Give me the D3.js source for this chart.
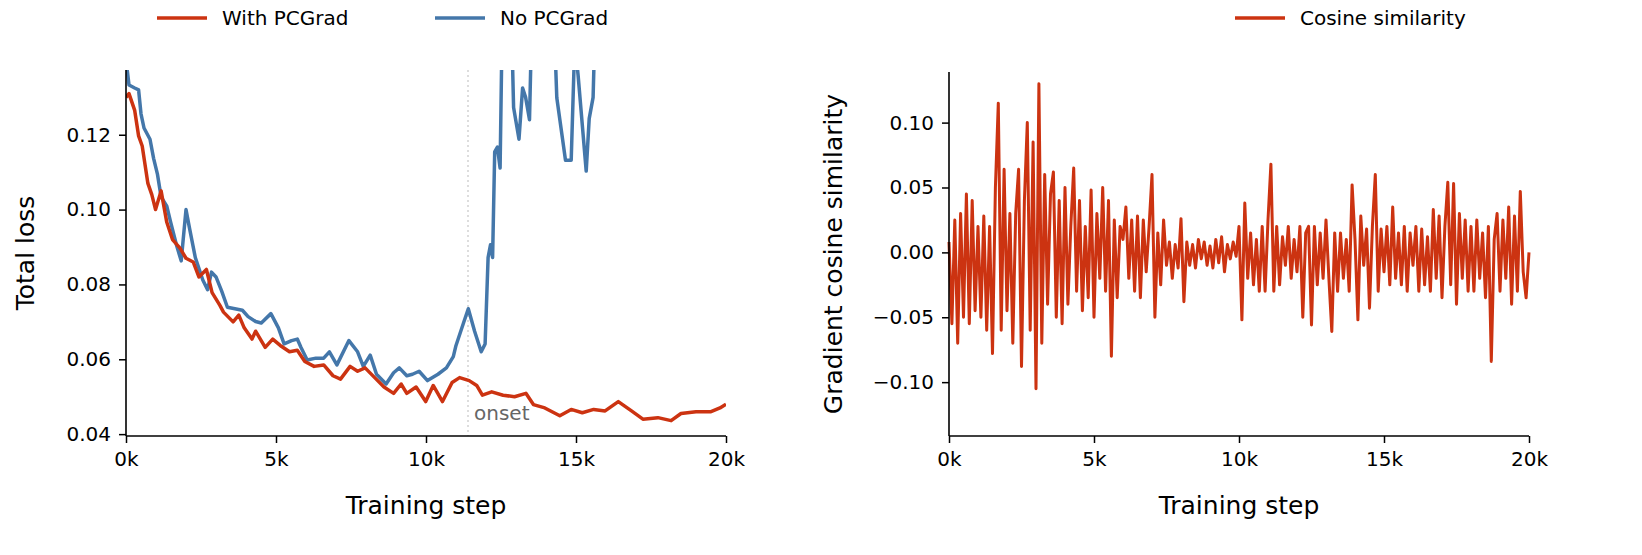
<!DOCTYPE html>
<html>
<head>
<meta charset="utf-8">
<script src="https://cdn.jsdelivr.net/npm/d3@7"></script>
<style>
  body { margin: 0; background: #fff; }
  text { font-family: "DejaVu Sans", sans-serif; }
</style>
</head>
<body>
<div id="chart"></div>
<script>
// ---- data ----
var pcgradSteps = [0, 100, 290, 420, 540, 730, 860, 985, 1170, 1360, 1550, 1800, 2000, 2240, 2430, 2680, 2870, 3130, 3250, 3570, 3760, 3940, 4200, 4320, 4640, 4890, 5140, 5450, 5710, 5960, 6270, 6590, 6900, 7150, 7470, 7720, 7970, 8290, 8600, 8920, 9170, 9360, 9670, 9990, 10240, 10550, 10870, 11120, 11440, 11690, 11880, 12190, 12570, 12950, 13330, 13580, 13960, 14460, 14840, 15210, 15590, 15970, 16410, 16850, 17230, 17730, 18170, 18500, 19000, 19500, 19800, 20000];
var pcgradLoss = [0.130, 0.131, 0.1265, 0.1197, 0.117, 0.107, 0.104, 0.100, 0.105, 0.0966, 0.092, 0.0897, 0.087, 0.086, 0.082, 0.084, 0.0778, 0.0744, 0.0726, 0.070, 0.0718, 0.0684, 0.0654, 0.0675, 0.0632, 0.0654, 0.0637, 0.062, 0.0624, 0.0594, 0.0581, 0.0585, 0.0556, 0.0547, 0.0581, 0.0568, 0.0577, 0.0551, 0.0526, 0.0509, 0.0534, 0.0509, 0.0526, 0.0487, 0.053, 0.0487, 0.0538, 0.0551, 0.0543, 0.053, 0.0504, 0.0513, 0.0504, 0.050, 0.0509, 0.0479, 0.047, 0.0449, 0.0466, 0.0457, 0.0466, 0.0462, 0.0487, 0.0462, 0.044, 0.0444, 0.0436, 0.0455, 0.046, 0.046, 0.047, 0.048];

var noPcgradSteps = [0, 100, 290, 420, 500, 600, 800, 920, 1050, 1170, 1360, 1490, 1680, 1840, 2000, 2120, 2310, 2560, 2720, 2850, 3000, 3190, 3380, 3630, 3880, 4070, 4320, 4510, 4830, 5080, 5270, 5520, 5710, 5830, 6040, 6330, 6590, 6780, 7030, 7430, 7720, 7910, 8140, 8350, 8670, 8920, 9110, 9360, 9550, 9770, 10050, 10400, 10680, 10910, 11000, 11250, 11410, 11620, 11840, 11970, 12070, 12150, 12220, 12290, 12380, 12470, 12540, 12700, 12820, 12920, 13100, 13220, 13320, 13450, 13510, 13800, 14100, 14270, 14360, 14650, 14840, 14960, 15070, 15340, 15440, 15570, 15620];
var noPcgradLoss = [0.140, 0.1333, 0.1325, 0.132, 0.1256, 0.1218, 0.1188, 0.1137, 0.1094, 0.1034, 0.1009, 0.0966, 0.0906, 0.0863, 0.100, 0.0949, 0.0872, 0.0812, 0.0786, 0.0833, 0.082, 0.0782, 0.0739, 0.0735, 0.0731, 0.0714, 0.0701, 0.0697, 0.0722, 0.0684, 0.0641, 0.065, 0.0654, 0.0632, 0.0598, 0.0603, 0.0603, 0.062, 0.0585, 0.065, 0.062, 0.0581, 0.0611, 0.056, 0.0534, 0.0564, 0.0577, 0.0556, 0.056, 0.0568, 0.0543, 0.056, 0.0577, 0.0607, 0.0637, 0.0697, 0.0735, 0.0675, 0.062, 0.0641, 0.0872, 0.0906, 0.0872, 0.1154, 0.1167, 0.1111, 0.150, 0.165, 0.160, 0.1273, 0.1188, 0.1325, 0.130, 0.124, 0.145, 0.165, 0.160, 0.150, 0.1299, 0.1132, 0.1132, 0.145, 0.1359, 0.1103, 0.1243, 0.130, 0.145];

var onsetStep = 11400;

// cosine similarity every 100 steps, 0 .. 20000
var cosine = [
  0.008, -0.055, 0.025, -0.07, 0.03, -0.05, 0.045, -0.055, 0.04, -0.045,
  0.02, -0.05, 0.028, -0.06, 0.02, -0.078, 0.05, 0.115, -0.06, 0.064,
  -0.045, 0.03, -0.07, 0.03, 0.064, -0.088, 0.04, 0.1, -0.06, 0.085,
  -0.105, 0.13, -0.07, 0.06, -0.04, 0.045, 0.062, -0.05, 0.04, -0.055,
  0.05, -0.04, 0.02, 0.065, -0.03, 0.04, -0.045, 0.02, -0.035, 0.048,
  -0.05, 0.03, -0.02, 0.05, -0.03, 0.04, -0.08, 0.025, -0.035, 0.02,
  0.01, 0.035, -0.02, 0.025, -0.03, 0.028, -0.035, 0.025, -0.015, 0.02,
  0.06, -0.05, 0.015, -0.025, 0.025, -0.01, 0.008, -0.02, 0.006, -0.012,
  0.026, -0.038, 0.008, -0.01, 0.006, -0.012, 0.01, -0.005, 0.008, -0.01,
  0.005, -0.012, 0.01, -0.008, 0.012, -0.015, 0.006, -0.005, 0.008, -0.003,
  0.02, -0.052, 0.038, -0.02, 0.015, -0.025, 0.01, -0.03, 0.02, -0.03,
  0.025, 0.068, -0.03, 0.02, -0.025, 0.012, -0.01, 0.02, -0.02, 0.01,
  -0.015, 0.02, -0.05, 0.015, 0.02, -0.056, 0.02, -0.025, 0.015, -0.02,
  0.025, -0.02, -0.061, 0.015, -0.03, 0.015, -0.02, 0.01, -0.03, 0.052,
  0.01, -0.052, 0.028, -0.01, 0.018, -0.043, 0.02, 0.06, -0.03, 0.018,
  -0.015, 0.02, -0.025, 0.035, -0.02, 0.015, -0.025, 0.02, -0.03, 0.015,
  -0.01, 0.02, -0.03, 0.018, -0.025, 0.012, -0.03, 0.033, -0.02, 0.028,
  -0.035, 0.02, 0.054, -0.025, 0.053, -0.04, 0.03, -0.02, 0.025, -0.03,
  0.02, -0.03, 0.025, -0.02, 0.015, -0.035, 0.02, -0.084, 0.01, 0.03,
  -0.03, 0.025, -0.02, 0.035, -0.04, 0.028, -0.03, 0.047, -0.015, -0.035,
  0.0
];
var cosineStepSize = 100;

var stepTicks = [0, 5000, 10000, 15000, 20000];
var lossTicks = [0.04, 0.06, 0.08, 0.10, 0.12];
var cosTicks = [-0.10, -0.05, 0.00, 0.05, 0.10];

var RED = "#cc3311", BLUE = "#4477aa";

var svg = d3.select("#chart").append("svg")
    .attr("width", 1642).attr("height", 555);

function stepFmt(d) { return (d / 1000) + "k"; }
function numFmt(d) { return d3.format(".2f")(d).replace("-", "\u2212"); }

function drawAxes(g, x, y, w, h, yTicks, yLabel, yLabelX) {
    var xa = g.append("g").attr("transform", "translate(0," + h + ")")
        .call(d3.axisBottom(x).tickValues(stepTicks).tickFormat(stepFmt).tickSize(7).tickPadding(9));
    var ya = g.append("g")
        .call(d3.axisLeft(y).tickValues(yTicks).tickFormat(numFmt).tickSize(7).tickPadding(8));
    [xa, ya].forEach(function(a) {
        a.selectAll("text").style("font-size", "20px").attr("fill", "#000");
        a.select(".domain").attr("stroke-width", 1.6);
        a.selectAll("line").attr("stroke-width", 1.5);
    });
    xa.select(".domain").attr("d", "M0,0H" + w);
    ya.select(".domain").attr("d", "M0,0V" + h);
    g.append("text").attr("x", w / 2).attr("y", h + 78)
        .attr("text-anchor", "middle").style("font-size", "25px").text("Training step");
    g.append("text").attr("transform", "translate(" + yLabelX + "," + (h / 2) + ")rotate(-90)")
        .attr("text-anchor", "middle").style("font-size", "25px").text(yLabel);
}

function legendItem(x, y, color, label) {
    svg.append("line").attr("x1", x).attr("x2", x + 50).attr("y1", y).attr("y2", y)
        .attr("stroke", color).attr("stroke-width", 3.5);
    svg.append("text").attr("x", x + 65).attr("y", y + 7).style("font-size", "20px").text(label);
}

// ---- left panel: total loss ----
var L = {left: 126, top: 70, width: 600, height: 366};
var gl = svg.append("g").attr("transform", "translate(" + L.left + "," + L.top + ")");
var xl = d3.scaleLinear().domain([0, 20000]).range([0, L.width]);
var yl = d3.scaleLinear().domain([0.0395, 0.1373]).range([L.height, 0]);

gl.append("clipPath").attr("id", "clipL").append("rect")
    .attr("x", 0).attr("y", 0).attr("width", L.width).attr("height", L.height);

gl.append("line").attr("x1", xl(onsetStep)).attr("x2", xl(onsetStep))
    .attr("y1", 0).attr("y2", L.height)
    .attr("stroke", "#bbb").attr("stroke-width", 1).attr("stroke-dasharray", "2,3");
gl.append("text").attr("x", xl(onsetStep) + 6).attr("y", L.height - 16)
    .style("font-size", "20px").attr("fill", "#666").text("onset");

var lineL = d3.line().x(function(d) { return xl(d[0]); }).y(function(d) { return yl(d[1]); });
gl.append("path").datum(d3.zip(noPcgradSteps, noPcgradLoss))
    .attr("clip-path", "url(#clipL)")
    .attr("d", lineL).attr("fill", "none").attr("stroke", BLUE).attr("stroke-width", 3.5)
    .attr("stroke-linejoin", "round");
gl.append("path").datum(d3.zip(pcgradSteps, pcgradLoss))
    .attr("clip-path", "url(#clipL)")
    .attr("d", lineL).attr("fill", "none").attr("stroke", RED).attr("stroke-width", 3.5)
    .attr("stroke-linejoin", "round");

drawAxes(gl, xl, yl, L.width, L.height, lossTicks, "Total loss", -92);

legendItem(157, 18, RED, "With PCGrad");
legendItem(435, 18, BLUE, "No PCGrad");

// ---- right panel: gradient cosine similarity ----
var R = {left: 949, top: 72, width: 580, height: 364};
var gr = svg.append("g").attr("transform", "translate(" + R.left + "," + R.top + ")");
var xr = d3.scaleLinear().domain([0, 20000]).range([0, R.width]);
var yr = d3.scaleLinear().domain([-0.1415, 0.139]).range([R.height, 0]);

var lineR = d3.line().x(function(d, i) { return xr(i * cosineStepSize); }).y(function(d) { return yr(d); });
gr.append("path").datum(cosine)
    .attr("d", lineR).attr("fill", "none").attr("stroke", RED).attr("stroke-width", 3)
    .attr("stroke-linejoin", "round");

drawAxes(gr, xr, yr, R.width, R.height, cosTicks, "Gradient cosine similarity", -107);

legendItem(1235, 18, RED, "Cosine similarity");
</script>
</body>
</html>
